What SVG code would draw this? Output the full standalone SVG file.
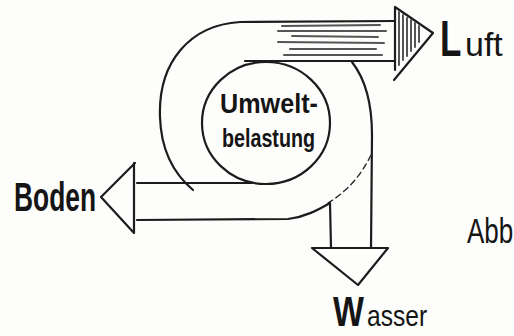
<svg xmlns="http://www.w3.org/2000/svg" width="514" height="336" viewBox="0 0 514 336">
<style>
.ln{fill:none;stroke:#1c1c1c;stroke-width:2.2;stroke-linecap:round;stroke-linejoin:round}
.th{fill:none;stroke:#2a2a2a;stroke-width:1.4;stroke-linecap:round}
.hatch{stroke:#555;stroke-width:2;stroke-linecap:round}
.lbl{font-family:"Liberation Sans",Arial,sans-serif;fill:#151515}
</style>
<rect width="514" height="336" fill="#fdfdfb"/>
<g id="connectors">
  <path class="ln" d="M395 21 L240 22 C190 25 158 62 160 117 C161 150 174 174 193 190"/>
  <path class="ln" d="M395 61 L245 61"/>
  <g class="hatch">
    <line x1="282" y1="26" x2="380" y2="25"/>
    <line x1="278" y1="31" x2="386" y2="31"/>
    <line x1="292" y1="36" x2="378" y2="37"/>
    <line x1="278" y1="42" x2="384" y2="43"/>
    <line x1="290" y1="49" x2="376" y2="49"/>
    <line x1="284" y1="55" x2="382" y2="55"/>
  </g>
  <path class="ln" d="M352 62 C366 80 372 105 372 135 L371 248"/>
  <path class="th" stroke-dasharray="6 4" d="M371 155 Q356 186 328 203"/>
  <path class="ln" d="M137 183 L252 183"/>
  <path class="ln" d="M137 220 L288 219 C305 217 318 210 330 203 L331 248"/>
  <path class="ln" d="M395 7 L433 33 L394 80 M395 7 L395 70"/>
  <g class="hatch" stroke-width="1.6">
    <line x1="399" y1="12" x2="399" y2="65"/>
    <line x1="403" y1="15" x2="403" y2="60"/>
    <line x1="407" y1="18" x2="407" y2="56"/>
    <line x1="411" y1="20" x2="411" y2="51"/>
    <line x1="415" y1="23" x2="415" y2="47"/>
    <line x1="419" y1="26" x2="419" y2="42"/>
  </g>
  <path class="ln" d="M135 163 L101 197 L134 233 L134 163"/>
  <path class="ln" d="M312 248 L388 248 L358 285 Z"/>
</g>
<g id="center">
  <ellipse class="ln" cx="266" cy="123" rx="64" ry="61"/>
  <text class="lbl" x="220" y="113" font-size="28" font-weight="bold" textLength="98" lengthAdjust="spacingAndGlyphs">Umwelt-</text>
  <text class="lbl" x="222" y="147" font-size="26" font-weight="bold" textLength="93" lengthAdjust="spacingAndGlyphs">belastung</text>
</g>
<g id="luft">
  <text class="lbl" transform="translate(440,56) scale(0.7,1)" font-size="50" font-weight="bold">L</text>
  <text class="lbl" x="465" y="56" font-size="34">uft</text>
</g>
<g id="boden">
  <text class="lbl" x="14" y="211" font-size="40" font-weight="bold" textLength="82" lengthAdjust="spacingAndGlyphs">Boden</text>
</g>
<g id="wasser">
  <text class="lbl" transform="translate(333,326) scale(0.78,1)" font-size="42" font-weight="bold">W</text>
  <text class="lbl" transform="translate(367,326) scale(0.82,1)" font-size="30">asser</text>
</g>
<text class="lbl" transform="translate(467,243) scale(1,1.35)" font-size="26">Abb</text>
</svg>
